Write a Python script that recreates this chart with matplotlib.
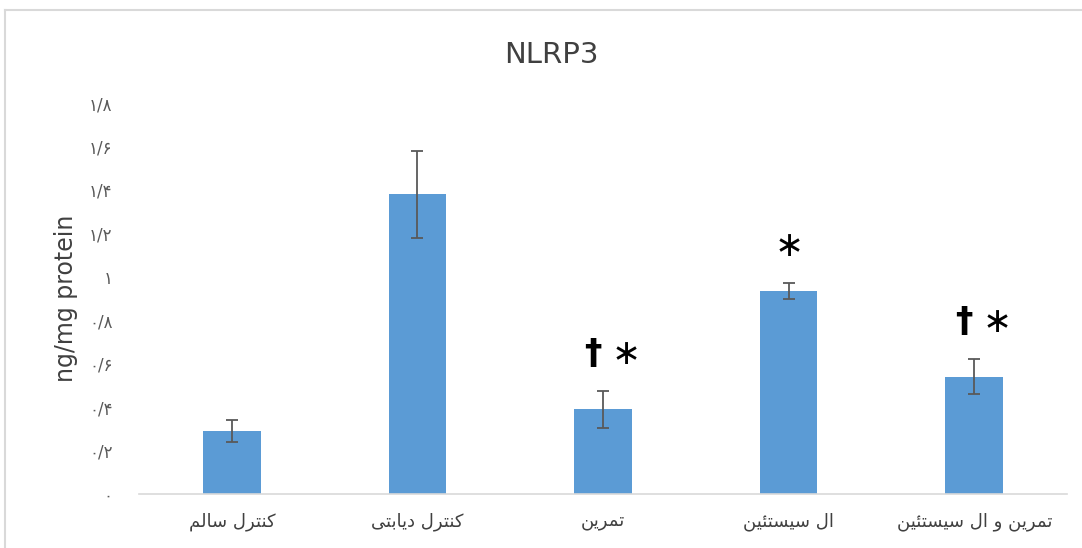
import matplotlib.pyplot as plt
import numpy as np

plt.rcParams['font.family'] = ['DejaVu Sans']

groups = ['کنترل سالم', 'کنترل دیابتی', 'تمرین', 'ال سیستئین', 'تمرین و ال سیستئین']
means = [0.29, 1.38, 0.39, 0.935, 0.54]
errors = [0.05, 0.20, 0.085, 0.037, 0.08]
dagger = [False, False, True, False, True]
star = [False, False, True, True, True]
ticks = [0, 0.2, 0.4, 0.6, 0.8, 1.0, 1.2, 1.4, 1.6, 1.8]
tick_labels = ['۰', '۰/۲', '۰/۴', '۰/۶', '۰/۸', '۱', '۱/۲', '۱/۴', '۱/۶', '۱/۸']

# contextual forms: isolated, final, initial, medial
FORMS = {
    'ا': ('\uFE8D', '\uFE8E', '\uFE8D', '\uFE8E'),
    'ب': ('\uFE8F', '\uFE90', '\uFE91', '\uFE92'),
    'ت': ('\uFE95', '\uFE96', '\uFE97', '\uFE98'),
    'د': ('\uFEA9', '\uFEAA', '\uFEA9', '\uFEAA'),
    'ر': ('\uFEAD', '\uFEAE', '\uFEAD', '\uFEAE'),
    'س': ('\uFEB1', '\uFEB2', '\uFEB3', '\uFEB4'),
    'ل': ('\uFEDD', '\uFEDE', '\uFEDF', '\uFEE0'),
    'م': ('\uFEE1', '\uFEE2', '\uFEE3', '\uFEE4'),
    'ن': ('\uFEE5', '\uFEE6', '\uFEE7', '\uFEE8'),
    'و': ('\uFEED', '\uFEEE', '\uFEED', '\uFEEE'),
    'ئ': ('\uFE89', '\uFE8A', '\uFE8B', '\uFE8C'),
    'ی': ('\uFBFC', '\uFBFD', '\uFBFE', '\uFBFF'),
    'ک': ('\uFB8E', '\uFB8F', '\uFB90', '\uFB91'),
}
RIGHT_ONLY = set('اردو')


def shape(s):
    # join letters and put them in visual (left-to-right) order
    out = []
    for i, c in enumerate(s):
        if c not in FORMS:
            out.append(c)
            continue
        prev = s[i - 1] if i > 0 else None
        nxt = s[i + 1] if i + 1 < len(s) else None
        jp = prev in FORMS and prev not in RIGHT_ONLY
        jn = nxt in FORMS and c not in RIGHT_ONLY
        iso, fin, ini, med = FORMS[c]
        if jp and jn:
            out.append(med)
        elif jp:
            out.append(fin)
        elif jn:
            out.append(ini)
        else:
            out.append(iso)
    return ''.join(reversed(out))


fig = plt.figure(figsize=(10.82, 5.48), dpi=100)
ax = fig.add_axes([0.1285, 0.0985, 0.8577, 0.7135])

x = np.arange(len(groups))
ax.bar(x, means, width=0.31, color='#5B9BD5', zorder=2)
ax.errorbar(x, means, yerr=errors, fmt='none', ecolor='#595959',
            elinewidth=1.3, capsize=4.5, capthick=1.3, zorder=3)

# significance marks above the error bars
for xi, m, e, d, s in zip(x, means, errors, dagger, star):
    y = m + e + 0.17
    if d and s:
        ax.text(xi - 0.055, y, '†', ha='center', va='center',
                fontsize=25, fontweight='bold', color='black')
        ax.text(xi + 0.125, y, '∗', ha='center', va='center',
                fontsize=25, color='black')
    elif s:
        ax.text(xi, y, '∗', ha='center', va='center', fontsize=25, color='black')

ax.set_xlim(-0.5, len(groups) - 0.5)
ax.set_ylim(0, 1.8)
ax.set_yticks(ticks)
ax.set_yticklabels(tick_labels)
ax.set_xticks(x)
ax.set_xticklabels([shape(g) for g in groups])
ax.tick_params(axis='y', length=0, pad=19, labelsize=12, labelcolor='#595959')
ax.tick_params(axis='x', length=0, pad=13, labelsize=13, labelcolor='#404040')

for side in ['top', 'right', 'left']:
    ax.spines[side].set_visible(False)
ax.spines['bottom'].set_color('#D9D9D9')
ax.spines['bottom'].set_linewidth(1.2)

ax.set_ylabel('ng/mg protein', fontsize=17, color='#404040', labelpad=8)
fig.text(0.51, 0.9, 'NLRP3', ha='center', va='center', fontsize=21, color='#404040')

# chart frame
fig.add_artist(plt.Line2D([0.005, 0.005], [0, 0.982], color='#D9D9D9', lw=1.5))
fig.add_artist(plt.Line2D([0.005, 1.0], [0.982, 0.982], color='#D9D9D9', lw=1.5))

fig.savefig('out.png', dpi=100)
